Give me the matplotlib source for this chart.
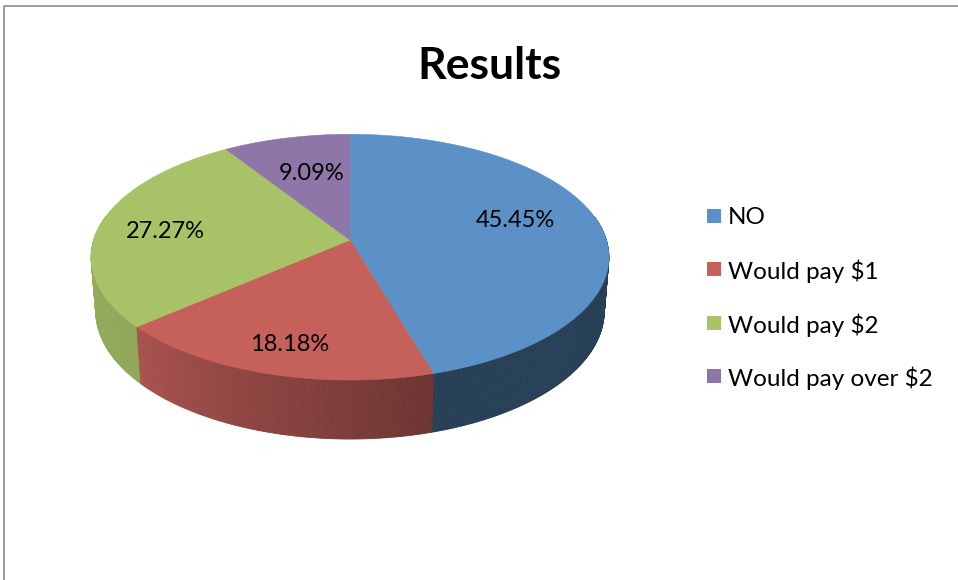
import numpy as np
import matplotlib
matplotlib.use("Agg")
import matplotlib.pyplot as plt
from matplotlib.patches import Polygon, Rectangle
from matplotlib.lines import Line2D

# ---- data ----
categories = ["NO", "Would pay $1", "Would pay $2", "Would pay over $2"]
shares = [45.45, 18.18, 27.27, 9.09]
colors = ["#5B91C6", "#C6605B", "#A8C268", "#8E76A8"]
title = "Results"

plt.rcParams["font.family"] = ["Lato", "DejaVu Sans"]

W, H_PX = 958, 580
fig = plt.figure(figsize=(W / 100, H_PX / 100), dpi=100)
ax = fig.add_axes([0, 0, 1, 1])
ax.set_xlim(0, W)
ax.set_ylim(H_PX, 0)
ax.axis("off")

# ---- perspective projection of a tilted disc ----
CX, CY = 350.0, 240.0          # screen position of the disc centre
F = 1620.0                     # focal length (px)
DIST = 6.32                    # camera distance in disc radii
SIN_T, COS_T = 0.47, np.sqrt(1 - 0.47 ** 2)
THICK = 0.24                   # disc thickness in radii


def project(theta_deg, r=1.0, y=0.0):
    """theta measured clockwise from the back of the disc (12 o'clock)."""
    th = np.radians(theta_deg)
    u = r * np.sin(th)
    z = r * np.cos(th)
    yc = y * COS_T + z * SIN_T
    zc = DIST - y * SIN_T + z * COS_T
    return CX + F * u / zc, CY - F * yc / zc, zc


def shade(theta_deg):
    return np.interp(theta_deg, [90, 163.5, 163.7, 230, 270],
                     [0.44, 0.44, 0.55, 0.86, 0.90])


def darker(hex_color, f):
    rgb = np.array(matplotlib.colors.to_rgb(hex_color))
    return tuple(np.clip(rgb * f, 0, 1))


total = float(sum(shares))
bounds = np.concatenate([[0], np.cumsum(shares)]) / total * 360.0

# ---- rim (side wall), painted back to front ----
quads = []
for i, col in enumerate(colors):
    a0, a1 = bounds[i], bounds[i + 1]
    n = max(int((a1 - a0) * 2), 2)
    ts = np.linspace(a0, a1, n + 1)
    for t0, t1 in zip(ts[:-1], ts[1:]):
        x0, y0, z0 = project(t0)
        x1, y1, z1 = project(t1)
        x2, y2, _ = project(t1, y=-THICK)
        x3, y3, _ = project(t0, y=-THICK)
        tm = 0.5 * (t0 + t1)
        if np.cos(np.radians(tm)) > 0.2:
            continue
        c = darker(col, shade(tm))
        quads.append(((z0 + z1) / 2, [(x0, y0), (x1, y1), (x2, y2), (x3, y3)], c))

for _, pts, c in sorted(quads, key=lambda q: -q[0]):
    ax.add_patch(Polygon(pts, closed=True, facecolor=c, edgecolor=c,
                         linewidth=0.6, antialiased=True))

# ---- top face ----
for i, col in enumerate(colors):
    a0, a1 = bounds[i], bounds[i + 1]
    ts = np.linspace(a0, a1, max(int((a1 - a0) * 2), 2) + 1)
    pts = [(CX, CY)] + [project(t)[:2] for t in ts]
    ax.add_patch(Polygon(pts, closed=True, facecolor=col, edgecolor=col,
                         linewidth=0.4))

# ---- percentage labels ----
label_frac = [0.68, 0.80, 0.73, 0.62]
label_turn = [-5.9, -1.1, -2.3, 1.1]
for i, v in enumerate(shares):
    mid = 0.5 * (bounds[i] + bounds[i + 1]) + label_turn[i]
    lx, ly, _ = project(mid, r=label_frac[i])
    ax.text(lx, ly, f"{v:.2f}%", ha="center", va="center",
            fontsize=17, color="black")

# ---- title ----
ax.text(489, 66, title, ha="center", va="center", fontsize=32,
        fontweight="bold", color="black")

# ---- legend ----
row0, step = 218, 53.4
for i, (name, col) in enumerate(zip(categories, colors)):
    yy = row0 + i * step
    ax.add_patch(Rectangle((707, yy - 9), 14, 14, facecolor=col,
                           edgecolor="none"))
    ax.text(728, yy, name, ha="left", va="center", fontsize=17.5,
            color="black")

# ---- chart frame ----
ax.add_line(Line2D([4.5, 4.5, W], [H_PX, 5.5, 5.5], color="#8C8C8C",
                   linewidth=1.2))

fig.savefig("out.png", dpi=100)
